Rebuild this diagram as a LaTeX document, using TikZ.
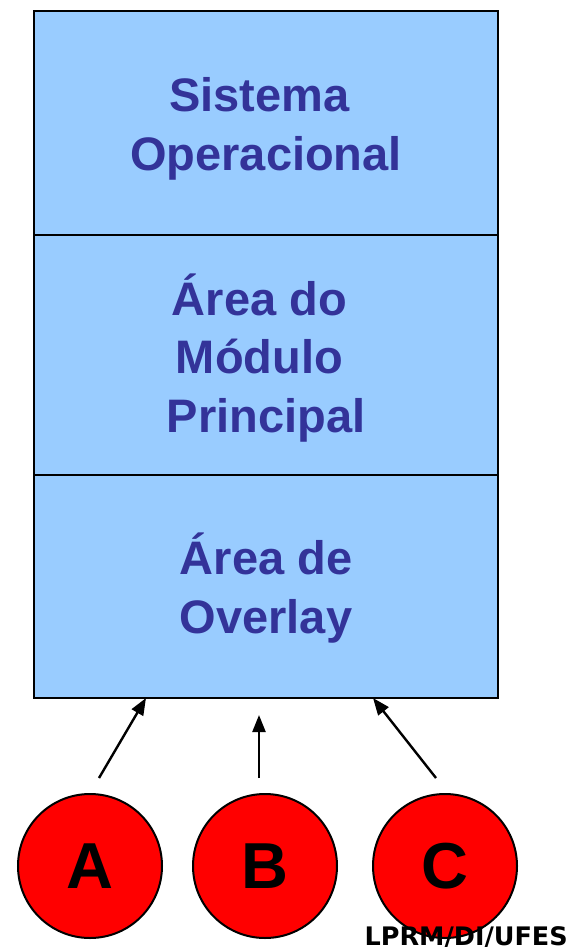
\documentclass[tikz,border=0pt]{standalone}
\usepackage{fontspec}
\setmainfont{Liberation Sans}
\newfontfamily\footfont{DejaVu Sans}
\usetikzlibrary{arrows.meta}
\definecolor{memfill}{HTML}{99CCFF}
\definecolor{memtext}{HTML}{333399}
\definecolor{ovlred}{HTML}{FF0000}
\newcommand{\trail}{\rule{0.28em}{0pt}}
\tikzset{
  compart/.style={draw=black, line width=2.2pt, fill=memfill, rectangle,
    minimum width=464pt, inner sep=0pt},
  % multi-line labels: the base anchor sits on the last line's baseline
  comptext/.style={text=memtext, font=\bfseries\fontsize{47pt}{58.5pt}\selectfont,
    align=center, anchor=base, inner sep=0pt},
  module/.style={draw=black, line width=2pt, fill=ovlred, circle,
    minimum size=144pt, inner sep=0pt,
    font=\bfseries\fontsize{65pt}{70pt}\selectfont},
  loadarrow/.style={line width=2.4pt, -{Triangle[length=17pt,width=13pt]}},
}
\begin{document}
\begin{tikzpicture}[x=1pt,y=-1pt]
  \useasboundingbox (0,0) rectangle (581,947);
  % memory layout
  \node[compart, minimum height=224pt] (so) at (266,123) {};
  \node[compart, minimum height=240pt] (main) at (266,355) {};
  \node[compart, minimum height=223pt] (ovl) at (266,586.5) {};
  \node[comptext] (sotext) at (266,170) {Sistema\trail\\Operacional};
  \node[comptext] (maintext) at (266,432) {Área do\trail\\Módulo\trail\\Principal};
  \node[comptext] (ovltext) at (266,633) {Área de\\Overlay};
  % overlay modules
  \node[module] (a) at (90,866) {\raisebox{-3pt}{A}};
  \node[module] (b) at (265,866) {\raisebox{-3pt}{B}};
  \node[module] (c) at (445,866) {\raisebox{-3pt}{C}};
  \coordinate (atail) at (99,778);
  \coordinate (btail) at (259,778);
  \coordinate (ctail) at (436,778);
  \coordinate (ahead) at (146,698);
  \coordinate (bhead) at (259,715);
  \coordinate (chead) at (373,698);
  \draw[loadarrow] (atail) -- (ahead);
  \draw[loadarrow] (btail) -- (bhead);
  \draw[loadarrow] (ctail) -- (chead);
  \node[font=\footfont\bfseries\fontsize{25.5pt}{28pt}\selectfont, anchor=base east,
    inner sep=0pt] (credit) at (568,945) {LPRM/DI/UFES};
\end{tikzpicture}
\end{document}
